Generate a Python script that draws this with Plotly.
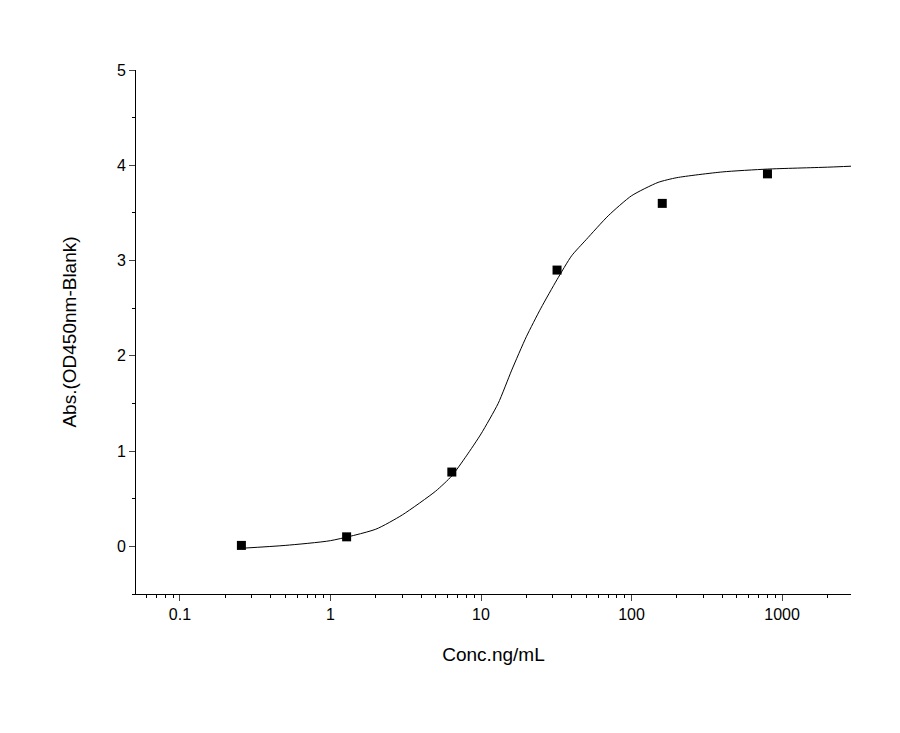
import plotly.graph_objects as go

conc = [0.256, 1.28, 6.4, 32, 160, 800, 4000]
od = [0.01, 0.10, 0.78, 2.90, 3.60, 3.91, 4.20]

fit_x = [0.256, 0.5, 1, 2, 3, 5, 6.4, 8, 10, 13, 16, 20, 25, 32, 40, 50, 70, 100, 150, 200, 400, 800, 2000, 4000]
fit_y = [-0.02, 0.01, 0.06, 0.18, 0.33, 0.58, 0.74, 0.95, 1.18, 1.5, 1.85, 2.2, 2.5, 2.8, 3.05, 3.22, 3.47, 3.68, 3.82, 3.87, 3.93, 3.96, 3.98, 4.0]

fig = go.Figure()
fig.add_trace(go.Scatter(x=fit_x, y=fit_y, mode="lines", line=dict(color="black", width=1, shape="spline", smoothing=0.6)))
fig.add_trace(go.Scatter(x=conc, y=od, mode="markers", marker=dict(symbol="square", color="black", size=9)))
font = dict(family="Liberation Sans, Arial", size=16, color="black")
fig.update_layout(
    width=900, height=733, showlegend=False, plot_bgcolor="white", paper_bgcolor="white",
    margin=dict(l=128, r=57, t=62, b=147), font=font,
    xaxis=dict(type="log", range=[-1.292, 3.458], showgrid=False, zeroline=False,
               showline=True, linecolor="black", linewidth=1, ticks="outside", ticklen=6,
               tickvals=[0.1, 1, 10, 100, 1000], ticktext=["0.1", "1", "10", "100", "1000"],
               minor=dict(ticks="outside", ticklen=3, tickcolor="black", dtick="D1", showgrid=False),
               title=dict(text="Conc.ng/mL", font=dict(size=19), standoff=25), tickfont=dict(size=16)),
    yaxis=dict(range=[-0.5, 5], showgrid=False, zeroline=False, showline=True, linecolor="black",
               linewidth=1, ticks="outside", ticklen=6, dtick=1,
               minor=dict(ticks="outside", ticklen=3, tickcolor="black", dtick=0.5),
               title=dict(text="Abs.(OD450nm-Blank)", font=dict(size=19), standoff=35), tickfont=dict(size=16)),
)
fig.write_html("out.html")
